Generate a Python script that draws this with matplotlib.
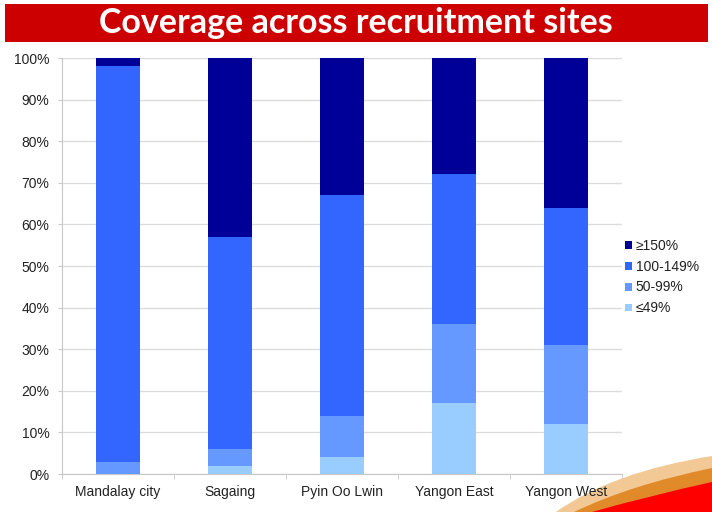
import numpy as np
import matplotlib
matplotlib.use("Agg")
import matplotlib.pyplot as plt
from matplotlib.path import Path
from matplotlib.patches import PathPatch, Rectangle

sites = ["Mandalay city", "Sagaing", "Pyin Oo Lwin", "Yangon East", "Yangon West"]
low = [0, 2, 4, 17, 12]          # <=49%
mid = [3, 4, 10, 19, 19]         # 50-99%
good = [95, 51, 53, 36, 33]      # 100-149%
high = [2, 43, 33, 28, 36]       # >=150%
series_labels = ["\u226449%", "50-99%", "100-149%", "\u2265150%"]
series_colors = ["#99CCFF", "#6699FF", "#3366FF", "#000099"]

W, H = 712, 512
fig = plt.figure(figsize=(W / 100, H / 100), dpi=100)
fig.patch.set_facecolor("white")

def px(x, y):
    return (x / W, 1 - y / H)

# red title bar
fig.patches.append(Rectangle(px(5, 42), 703 / W, 38 / H, transform=fig.transFigure,
                             facecolor="#CC0000", edgecolor="none", zorder=-2))
fig.text(0.5, 1 - 23 / H, "Coverage across recruitment sites", color="white",
         fontsize=24.5, fontweight="bold", family="Lato", ha="center", va="center")

# decorative swoosh bottom right
def swoosh(x0, cx, cy, y1, color):
    verts = [px(x0, 512), px(cx, cy), px(712, y1), px(712, 512), px(x0, 512)]
    codes = [Path.MOVETO, Path.CURVE3, Path.CURVE3, Path.LINETO, Path.CLOSEPOLY]
    fig.patches.append(PathPatch(Path(verts, codes), transform=fig.transFigure,
                                 facecolor=color, edgecolor="none", zorder=-1))

swoosh(556, 612, 472, 456, "#F2C894")
swoosh(574, 630, 485, 468, "#E08A2A")
swoosh(592, 648, 496, 482, "#FF0000")

ax = fig.add_axes([62 / W, 1 - 474 / H, 560 / W, 416 / H])
ax.set_facecolor("none")

x = np.arange(len(sites))
bottom = np.zeros(len(sites))
for vals, lab, col in zip([low, mid, good, high], series_labels, series_colors):
    ax.bar(x, vals, width=0.39, bottom=bottom, color=col, label=lab, zorder=3)
    bottom += np.array(vals)

ax.set_xlim(-0.5, len(sites) - 0.5)
ax.set_ylim(0, 100)
ax.set_yticks(np.arange(0, 101, 10))
ax.set_yticklabels([f"{v}%" for v in range(0, 101, 10)])
ax.set_xticks(x)
ax.set_xticklabels(sites)
ax.set_xticks(np.arange(-0.5, len(sites), 1), minor=True)
ax.tick_params(axis="x", which="major", length=0, pad=8, labelsize=10, labelcolor="#222222")
ax.tick_params(axis="x", which="minor", length=3.5, color="#C8C8C8", direction="out")
ax.tick_params(axis="y", length=3, color="#C8C8C8", pad=6, labelsize=10, labelcolor="#222222")
for t in ax.get_xticklabels() + ax.get_yticklabels():
    t.set_family("Liberation Sans")

ax.grid(axis="y", color="#DCDCDC", linewidth=1, zorder=0)
ax.set_axisbelow(True)
for s in ["top", "right"]:
    ax.spines[s].set_visible(False)
for s in ["left", "bottom"]:
    ax.spines[s].set_color("#C8C8C8")

handles, labels = ax.get_legend_handles_labels()
leg = ax.legend(handles[::-1], labels[::-1], loc="center left",
                bbox_to_anchor=(622 / W, 1 - 277 / H), bbox_transform=fig.transFigure,
                frameon=False, handlelength=0.5, handleheight=0.5, handletextpad=0.3,
                labelspacing=0.5, borderaxespad=0, borderpad=0.2,
                prop={"family": "Liberation Sans", "size": 10})
for t in leg.get_texts():
    t.set_color("#222222")

fig.savefig("out.png", dpi=100)
